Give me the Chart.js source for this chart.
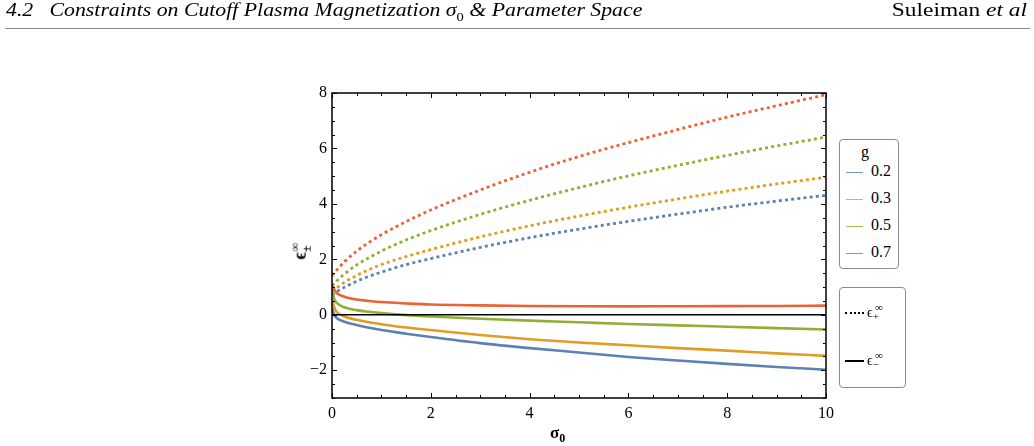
<!DOCTYPE html>
<html>
<head>
<meta charset="utf-8">
<script src="https://cdn.jsdelivr.net/npm/chart.js@4.4.1/dist/chart.umd.min.js"></script>
<style>
  html, body { margin:0; padding:0; background:#fff; width:1034px; height:446px; overflow:hidden; }
  #wrap { position:relative; width:1034px; height:446px; }
  canvas { position:absolute; left:0; top:0; }
  .serif { font-family:"Liberation Serif","DejaVu Serif",serif; color:#000; }
  #hdrL { position:absolute; left:6px; top:0px; font-size:18px; font-style:italic; white-space:nowrap; transform:scaleX(1.21); transform-origin:left top; }
  #hdrR { position:absolute; right:7px; top:0px; font-size:18px; white-space:nowrap; transform:scaleX(1.3); transform-origin:right top; }
  #rule { position:absolute; left:5px; top:28px; width:1025px; height:1px; background:#8a8a8a; }
  #xt { position:absolute; left:550px; top:423px; font-size:17px; font-weight:bold; white-space:nowrap; }
  #yt { position:absolute; left:281px; top:238px; width:40px; text-align:center; font-size:18px; font-weight:bold; transform:rotate(-90deg); white-space:nowrap; }
  .box { position:absolute; border:1px solid #8c8c8c; border-radius:4px; background:#fff; }
  .item { position:absolute; font-size:15px; white-space:nowrap; }
  .sw { position:absolute; height:0; }
</style>
</head>
<body>
<div id="wrap">
  <canvas id="c" width="1034" height="446"></canvas>
  <div id="hdrL" class="serif">4.2&nbsp;&nbsp;&nbsp;Constraints on Cutoff Plasma Magnetization σ<sub style="font-style:normal;font-size:12px">0</sub> &amp; Parameter Space</div>
  <div id="hdrR" class="serif">Suleiman <i>et al</i></div>
  <div id="rule"></div>
  <div id="xt" class="serif">σ<sub style="font-size:12px">0</sub></div>
  <div id="yt" class="serif">ϵ<sub style="font-size:12px">±</sub><sup style="font-size:12px;margin-left:-6px">∞</sup></div>
  <div id="legend1"></div>
  <div id="legend2"></div>
</div>
<script>
// ---- data ----
const sigma = [0, 0.05, 0.1, 0.25, 0.5, 0.75, 1, 1.5, 2, 3, 4, 5, 6, 7, 8, 9, 10];
const gValues = ["0.2", "0.3", "0.5", "0.7"];
// epsilon_+^infinity (dotted)
const epsPlus_g02 = [0.72, 0.78, 0.84, 0.99, 1.21, 1.39, 1.54, 1.81, 2.03, 2.43, 2.78, 3.09, 3.37, 3.63, 3.88, 4.10, 4.31];
const epsPlus_g03 = [0.85, 0.92, 0.98, 1.17, 1.42, 1.63, 1.81, 2.10, 2.35, 2.81, 3.21, 3.56, 3.88, 4.18, 4.46, 4.72, 4.96];
const epsPlus_g05 = [1.05, 1.14, 1.23, 1.47, 1.80, 2.06, 2.30, 2.70, 3.04, 3.62, 4.13, 4.59, 5.01, 5.39, 5.75, 6.09, 6.41];
const epsPlus_g07 = [1.42, 1.52, 1.62, 1.91, 2.30, 2.61, 2.89, 3.36, 3.78, 4.50, 5.14, 5.71, 6.21, 6.68, 7.13, 7.54, 7.94];
// epsilon_-^infinity (solid)
const epsMinus_g02 = [0.25, -0.02, -0.12, -0.25, -0.37, -0.47, -0.55, -0.68, -0.80, -1.02, -1.20, -1.36, -1.52, -1.65, -1.77, -1.88, -1.98];
const epsMinus_g03 = [0.55, 0.25, 0.10, -0.06, -0.18, -0.27, -0.34, -0.46, -0.55, -0.73, -0.88, -1.00, -1.10, -1.20, -1.29, -1.39, -1.48];
const epsMinus_g05 = [0.85, 0.55, 0.42, 0.27, 0.17, 0.11, 0.06, -0.01, -0.06, -0.14, -0.21, -0.27, -0.33, -0.38, -0.43, -0.48, -0.53];
const epsMinus_g07 = [1.10, 0.90, 0.78, 0.65, 0.55, 0.50, 0.46, 0.41, 0.37, 0.34, 0.32, 0.31, 0.305, 0.31, 0.315, 0.32, 0.33];
const zeroLine = [0, 0];
const zeroSigma = [0, 10];
const xTicks = [0, 2, 4, 6, 8, 10];
const yTicks = [-2, 0, 2, 4, 6, 8];

const colors = ["#5E81B5", "#E19C24", "#8FB032", "#EB6235"];
const plusSeries = [epsPlus_g02, epsPlus_g03, epsPlus_g05, epsPlus_g07];
const minusSeries = [epsMinus_g02, epsMinus_g03, epsMinus_g05, epsMinus_g07];

const pts = (xs, ys) => xs.map((x, i) => ({ x: x, y: ys[i] }));

const datasets = [];
datasets.push({ label: "zero", data: pts(zeroSigma, zeroLine), borderColor: "#000", borderWidth: 1.5, pointRadius: 0, fill: false });
minusSeries.forEach((s, i) => datasets.push({
  label: "ε− g=" + gValues[i], data: pts(sigma, s), borderColor: colors[i], borderWidth: 2.6,
  pointRadius: 0, fill: false, cubicInterpolationMode: "monotone"
}));
plusSeries.forEach((s, i) => datasets.push({
  label: "ε+ g=" + gValues[i], data: pts(sigma, s), borderColor: colors[i], borderWidth: 2.8,
  borderDash: [3, 3.2], borderCapStyle: "butt", pointRadius: 0, fill: false, cubicInterpolationMode: "monotone"
}));

const fmt = v => (v < 0 ? "\u2212" + Math.abs(v) : String(v));

const framePlugin = {
  id: "frame",
  afterDatasetsDraw(chart) {
    const { ctx, chartArea: a, scales: { x, y } } = chart;
    ctx.save();
    ctx.strokeStyle = "#000";
    ctx.lineWidth = 1.5;
    ctx.strokeRect(a.left, a.top, a.right - a.left, a.bottom - a.top);
    ctx.lineWidth = 1;
    for (let k = 0; k <= 20; k++) {
      const v = k * 0.5;
      const px = Math.round(x.getPixelForValue(v)) + 0.5;
      const len = (k % 4 === 0) ? 5 : 3;
      ctx.beginPath();
      ctx.moveTo(px, a.bottom); ctx.lineTo(px, a.bottom - len);
      ctx.moveTo(px, a.top); ctx.lineTo(px, a.top + len);
      ctx.stroke();
    }
    for (let k = 0; k <= 22; k++) {
      const v = -3 + k * 0.5;
      const py = Math.round(y.getPixelForValue(v)) + 0.5;
      const len = (Math.abs(v % 2) === 0) ? 5 : 3;
      ctx.beginPath();
      ctx.moveTo(a.left, py); ctx.lineTo(a.left + len, py);
      ctx.moveTo(a.right, py); ctx.lineTo(a.right - len, py);
      ctx.stroke();
    }
    ctx.restore();
  }
};

new Chart(document.getElementById("c"), {
  type: "line",
  data: { datasets: datasets },
  plugins: [framePlugin],
  options: {
    responsive: false,
    animation: false,
    layout: { padding: { left: 0, top: 93, right: 208, bottom: 0 } },
    plugins: { legend: { display: false }, tooltip: { enabled: false } },
    scales: {
      x: {
        type: "linear", min: 0, max: 10,
        afterFit: s => { s.height = 48; },
        afterBuildTicks: s => { s.ticks = xTicks.map(v => ({ value: v })); },
        grid: { display: false, drawTicks: false },
        border: { display: false },
        ticks: { padding: 6, color: "#000", font: { family: "Liberation Serif", size: 16 }, callback: v => fmt(v), maxRotation: 0 }
      },
      y: {
        type: "linear", min: -3, max: 8,
        afterFit: s => { s.width = 332; },
        afterBuildTicks: s => { s.ticks = yTicks.map(v => ({ value: v })); },
        grid: { display: false, drawTicks: false },
        border: { display: false },
        ticks: { padding: 5, color: "#000", font: { family: "Liberation Serif", size: 16 }, callback: v => fmt(v) }
      }
    }
  }
});

// ---- legends (HTML) ----
const l1 = document.getElementById("legend1");
l1.className = "box";
l1.style.cssText += "left:839px;top:139px;width:58px;height:128px;";
let html1 = '<div class="item serif" style="left:21px;top:3px;font-size:16px">g</div>';
gValues.forEach((g, i) => {
  const top = 32 + i * 27;
  html1 += '<div class="sw" style="left:6px;top:' + top + 'px;width:17px;border-top:1.5px solid ' + colors[i] + ';opacity:0.85"></div>';
  html1 += '<div class="item serif" style="left:31px;top:' + (top - 10) + 'px;font-size:16px">' + g + '</div>';
});
l1.innerHTML = html1;

const l2 = document.getElementById("legend2");
l2.className = "box";
l2.style.cssText += "left:839px;top:287px;width:65px;height:99px;";
l2.innerHTML =
  '<div class="sw" style="left:5px;top:24px;width:19px;border-top:2px dotted #000"></div>' +
  '<div class="item serif" style="left:27px;top:13px;font-size:14px">ϵ<sub style="font-size:11px">+</sub><sup style="font-size:11px;margin-left:-4px">∞</sup></div>' +
  '<div class="sw" style="left:5px;top:72px;width:19px;border-top:2px solid #000"></div>' +
  '<div class="item serif" style="left:27px;top:61px;font-size:14px">ϵ<sub style="font-size:11px">−</sub><sup style="font-size:11px;margin-left:-4px">∞</sup></div>';
</script>
</body>
</html>
